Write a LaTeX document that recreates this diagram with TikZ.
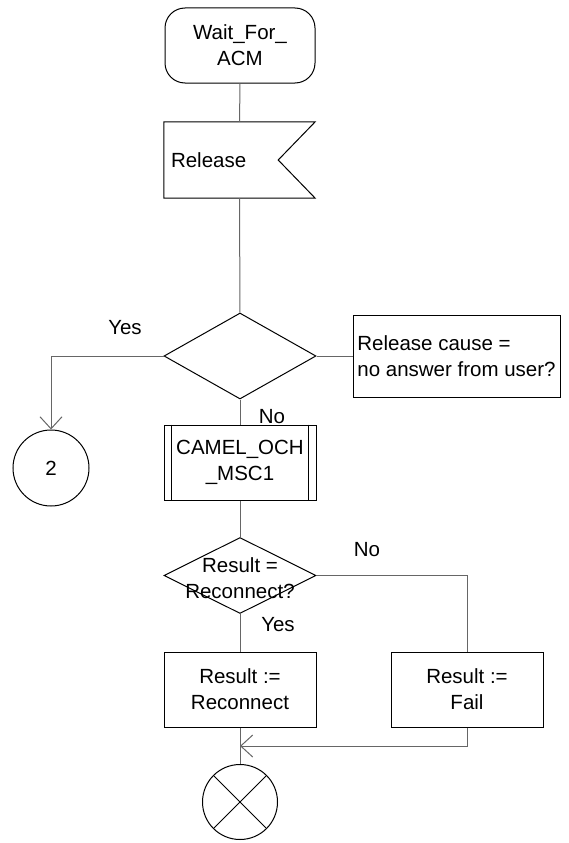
\documentclass[tikz,border=0pt]{standalone}
\usepackage{fontspec}
\setmainfont{Liberation Sans}
\usetikzlibrary{shapes.geometric,arrows.meta,calc}

\begin{document}
\begin{tikzpicture}[x=1pt, y=-1pt,
  every node/.style={font=\fontsize{20.5}{26}\selectfont},
  shapeline/.style={draw=black, line width=1pt},
  flow/.style={draw=black!60, line width=1pt},
  flowarrow/.style={flow, -{Straight Barb[length=12pt,width=22pt]}},
  statebox/.style={shapeline, rectangle, rounded corners=20pt, minimum width=150pt, minimum height=75pt, align=center},
  sigbox/.style={rectangle, minimum width=151pt, minimum height=76pt, text width=137pt, inner xsep=7pt, align=left},
  taskbox/.style={shapeline, rectangle, minimum width=152pt, minimum height=75pt, align=center},
  notebox/.style={shapeline, rectangle, minimum width=207pt, minimum height=82pt, align=left},
  decision/.style={shapeline, diamond, minimum width=152pt, inner sep=0pt},
  connector/.style={shapeline, circle, minimum size=76pt, inner sep=0pt}]
  \useasboundingbox (0,0) rectangle (568,843);

  % state and input signal
  \node[statebox] (wait) at (240,45.5) {Wait\_For\_\\ACM};
  \node[sigbox] (rel) at (239.5,160) {Release};
  \draw[shapeline] (rel.north west) -- (rel.north east) -- ($(rel.east)+(-37,0)$)
    -- (rel.south east) -- (rel.south west) -- cycle;

  % first decision with its comment
  \node[decision, minimum height=86pt] (cause) at (240,356) {};
  \node[notebox] (cmt) at (456.5,356) {Release cause =\\no answer from user?};
  \node[connector] (two) at (51,468) {2};
  \node (yes1) at (125,328) {Yes};
  \node (no1) at (272,417) {No};

  % procedure call
  \node[taskbox] (proc) at (240,462.5) {CAMEL\_OCH\\\_MSC1};
  \draw[shapeline] ([xshift=8]proc.north west) -- ([xshift=8]proc.south west);
  \draw[shapeline] ([xshift=-8]proc.north east) -- ([xshift=-8]proc.south east);

  % second decision
  \node[decision, minimum height=76pt,
    label={[align=center, yshift=-3pt]center:Result =\\Reconnect?}] (res) at (240,575.5) {};
  \node (no2) at (367,550) {No};
  \node (yes2) at (278,625) {Yes};

  % tasks and end
  \node[taskbox] (recon) at (240,689.5) {Result :=\\Reconnect};
  \node[taskbox] (fail) at (467,689.5) {Result :=\\Fail};
  \coordinate (merge) at (240,746);
  \node[connector, minimum size=75pt] (stop) at (240,802) {};
  \draw[shapeline] (stop.north west) -- (stop.south east)
    (stop.north east) -- (stop.south west);

  % connectors
  \draw[flow] (wait) -- (rel);
  \draw[flow] (rel) -- (cause);
  \draw[flow] (cause.east) -- (cmt.west);
  \draw[flowarrow] (cause.west) -| (two.north);
  \draw[flow] (cause) -- (proc);
  \draw[flow] (proc) -- (res);
  \draw[flow] (res) -- (recon);
  \draw[flow] (res.east) -| (fail.north);
  \draw[flowarrow] (fail.south) |- (merge);
  \draw[flow] (recon) -- (stop);
\end{tikzpicture}
\end{document}
